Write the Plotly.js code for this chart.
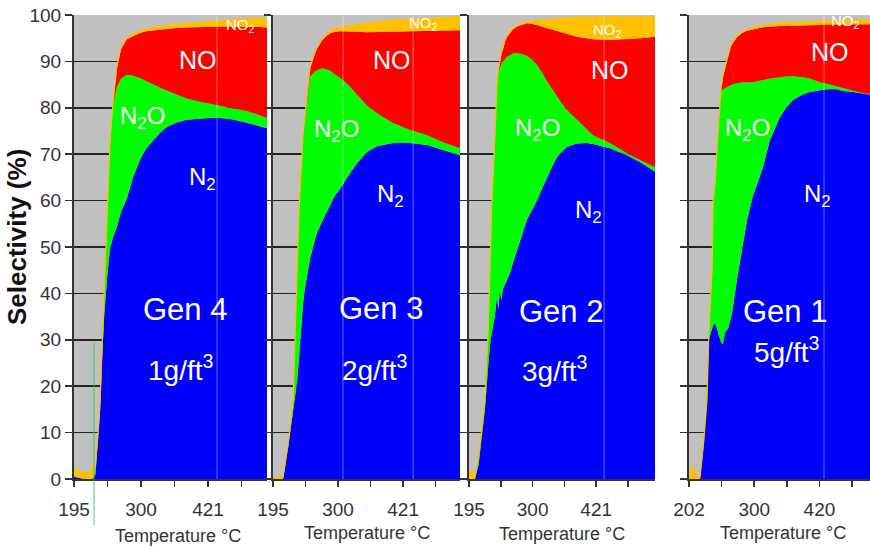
<!DOCTYPE html>
<html>
<head>
<meta charset="utf-8">
<script src="https://cdn.plot.ly/plotly-3.0.1.min.js"></script>
<style>
  html, body { margin: 0; padding: 0; background: #fff; }
  #chart { width: 870px; height: 547px; }
</style>
</head>
<body>
<div id="chart"></div>
<script>
// ---- Selectivity data (%), sampled along each light-off ramp ----
// Positions are in major-tick units along the ramp; every second tick carries a temperature label.

// Gen 4, 1 g/ft3
const gen4Pos = [0, 0.15, 0.3, 0.45, 0.56, 0.64, 0.72, 0.78, 0.84, 0.90, 0.99, 1.07, 1.16, 1.28, 1.40, 1.58, 1.76, 1.97, 2.15, 2.36, 2.57, 2.78, 3.05, 3.37, 3.76, 4.05, 4.36, 4.75, 5.15, 5.55, 5.76];
const gen4N2  = [0.5, 0.3, 0, 0, 0, 1, 8, 15, 26, 35, 43.5, 49.4, 52, 54.3, 57.5, 60.5, 65, 68.8, 71.2, 73, 74.6, 75.9, 76.8, 77.4, 77.7, 77.8, 77.8, 77.5, 76.8, 76, 75.6];
const gen4N2O = [0, 0, 0, 0, 0, 1, 1.5, 1.5, 2.5, 4.5, 16, 22.1, 28.5, 30.2, 28.8, 26.6, 21.9, 17.6, 14.6, 12, 9.7, 7.8, 6.1, 4.6, 3.6, 3.1, 2.7, 2.5, 2.5, 2.4, 2.2];
const gen4NO  = [0, 0, 0, 0, 0, 0, 0, 0, 0, 0, 0, 0, 0, 4.1, 6.3, 7.7, 8.5, 9.7, 10.7, 11.7, 12.6, 13.3, 14.3, 15.3, 16.1, 16.6, 17, 17.5, 18.2, 19, 19.5];
const gen4NO2 = [2, 1, 2, 0.8, 2.5, 1, 0.5, 0.5, 0.5, 0.5, 0.5, 0.5, 0.5, 0.4, 0.4, 0.4, 0.4, 0.5, 0.5, 0.6, 0.6, 0.7, 0.8, 0.9, 1.0, 1.1, 1.3, 1.5, 1.7, 1.9, 2.0];

// Gen 3, 2 g/ft3
const gen3Pos = [0, 0.31, 0.47, 0.62, 0.68, 0.74, 0.80, 0.92, 0.98, 1.05, 1.14, 1.29, 1.35, 1.51, 1.66, 1.75, 1.9, 2.06, 2.28, 2.58, 2.89, 3.2, 3.69, 4.22, 4.74, 5.23, 5.75];
const gen3N2  = [0, 0, 7, 15, 17, 21, 26, 37.5, 41, 44, 47.5, 51.5, 53, 55.5, 57.5, 59, 61, 62.5, 65, 68, 70.5, 71.7, 72.4, 72.4, 72, 70.9, 69.8];
const gen3N2O = [0, 0, 0.7, 1.5, 13.5, 23.5, 31.5, 36, 36.5, 38, 39.2, 36.3, 35.1, 33, 30.8, 29.1, 26.2, 24, 20.2, 14.9, 10, 7.1, 4.3, 2.8, 2.1, 1.7, 1.5];
const gen3NO  = [0, 0, 0, 0.2, 0.2, 0.2, 0.2, 0.2, 0.2, 0.7, 1.8, 3.9, 4.6, 6.0, 7.3, 7.9, 9.2, 10, 11.3, 13.5, 15.8, 17.5, 19.7, 21.3, 22.5, 24.1, 25.4];
const gen3NO2 = [0.3, 0.5, 0.3, 0.3, 0.3, 0.3, 0.3, 0.3, 0.3, 0.3, 0.3, 0.3, 0.3, 0.3, 0.4, 0.5, 0.6, 0.8, 1.1, 1.6, 2.0, 2.2, 2.5, 2.6, 2.7, 2.8, 2.9];

// Gen 2, 3 g/ft3
const gen2Pos = [0, 0.09, 0.19, 0.3, 0.5, 0.6, 0.66, 0.72, 0.82, 0.88, 0.92, 0.97, 1.02, 1.07, 1.13, 1.19, 1.29, 1.38, 1.51, 1.66, 1.82, 1.98, 2.14, 2.3, 2.45, 2.62, 2.77, 2.93, 3.08, 3.4, 3.7, 3.9, 4.43, 4.97, 5.4, 5.85];
const gen2N2  = [0, 0, 0, 3, 15, 24, 29, 31.5, 35.5, 39.5, 36.5, 40.5, 38.5, 41, 42, 43, 44.4, 46.5, 49.4, 52.5, 55.8, 58, 60, 62.6, 65, 67.4, 69.4, 70.6, 71.6, 72.3, 72.4, 72.2, 71.3, 69.8, 68.2, 66.2];
const gen2N2O = [0, 0, 0, 1, 1.7, 7.2, 16.4, 28.2, 38.7, 45.5, 51, 48.3, 51, 49, 48.6, 48, 47, 45.2, 42.4, 39.1, 35.4, 32.4, 29.2, 25, 20.8, 16.6, 12.9, 10.2, 7.9, 5.1, 3, 1.9, 1.1, 0.4, 0.5, 1.0];
const gen2NO  = [0, 0, 0, 0, 0, 0, 0, 0, 0, 0, 0.2, 1.2, 2.2, 2.7, 3.7, 4.2, 4.8, 5.2, 5.7, 6.3, 7.0, 7.7, 8.6, 9.9, 11.4, 12.9, 14.3, 15.5, 16.5, 17.9, 19.6, 20.7, 22.2, 24.6, 26.3, 28.1];
const gen2NO2 = [0.5, 2, 0.5, 1, 0.3, 0.3, 0.3, 0.3, 0.3, 0.3, 0.3, 0.3, 0.3, 0.3, 0.3, 0.3, 0.3, 0.3, 0.3, 0.3, 0.3, 0.6, 1.0, 1.5, 1.9, 2.3, 2.7, 3.0, 3.4, 4.2, 4.6, 4.8, 5.0, 4.8, 4.6, 4.3];

// Gen 1, 5 g/ft3
const gen1Pos = [0, 0.12, 0.22, 0.34, 0.45, 0.55, 0.61, 0.71, 0.74, 0.80, 0.86, 0.89, 0.95, 0.98, 1.04, 1.10, 1.20, 1.26, 1.32, 1.47, 1.56, 1.63, 1.78, 1.96, 2.09, 2.27, 2.48, 2.79, 3.01, 3.19, 3.5, 3.71, 4.02, 4.23, 4.54, 4.72, 5.03, 5.25, 5.55];
const gen1N2  = [0, 0, 0, 0, 7.5, 16.5, 30, 32.8, 33.2, 33.5, 32.5, 31.5, 30, 29.5, 29, 31.5, 32.5, 34, 35.7, 42.9, 46.5, 49.4, 55.8, 61, 63.5, 67.2, 73, 78, 80.3, 81.7, 82.9, 83.4, 83.8, 84, 84, 83.6, 83.4, 83.2, 82.8];
const gen1N2O = [0, 0, 0, 0, 0.2, 0.2, 1.2, 12.6, 26.5, 30.2, 38.2, 43.2, 51.4, 54, 55, 52.7, 52.1, 50.8, 49.3, 42.4, 38.9, 36.1, 29.7, 24.5, 22.2, 18.8, 13.3, 8.6, 6.5, 5.1, 3.7, 2.9, 1.7, 1.2, 0.6, 0.6, 0.2, 0.1, 0.1];
const gen1NO  = [0, 0, 0, 0, 0, 0, 0, 0, 0, 0, 0, 0, 0, 0.2, 2.7, 4.3, 6.6, 7.9, 8.7, 9.9, 10.3, 10.6, 11.1, 11.45, 11.4, 11.35, 11.2, 11.1, 10.95, 10.9, 11.1, 11.5, 12.35, 12.75, 13.4, 13.8, 14.4, 14.7, 15.1];
const gen1NO2 = [0.5, 3, 0.5, 0.5, 0.3, 0.3, 0.3, 0.3, 0.3, 0.3, 0.3, 0.3, 0.3, 0.3, 0.3, 0.3, 0.3, 0.3, 0.3, 0.3, 0.3, 0.3, 0.3, 0.35, 0.4, 0.45, 0.5, 0.6, 0.65, 0.7, 0.8, 0.8, 0.85, 0.85, 0.9, 0.9, 0.9, 0.9, 0.9];

// Temperature labels (°C) on the labelled ticks of each panel
const gen4Ticks = ['195', '300', '421'];
const gen3Ticks = ['195', '300', '421'];
const gen2Ticks = ['195', '300', '421'];
const gen1Ticks = ['202', '300', '420'];

const panelNames = ['Gen 4', 'Gen 3', 'Gen 2', 'Gen 1'];
const loadings = ['1g/ft<sup>3</sup>', '2g/ft<sup>3</sup>', '3g/ft<sup>3</sup>', '5g/ft<sup>3</sup>'];
const speciesNames = ['N<sub>2</sub>', 'N<sub>2</sub>O', 'NO', 'NO<sub>2</sub>'];

// ---- Styling and geometry ----
const W = 870, H = 547;
const px = v => v / W;
const py = v => 1 - v / H;
const FONT = 'Liberation Sans, Arial, sans-serif';
const speciesColors = ['#0000ff', '#00ff00', '#ff0000', '#ffc000'];
const AXIS_DARK = '#333333';

const panels = [
  { pos: gen4Pos, series: [gen4N2, gen4N2O, gen4NO, gen4NO2], ticks: gen4Ticks, dom: [74, 267], span: 5.76,
    spots: { n2: [202, 178], n2o: [142, 117], no: [198, 60], no2: [240, 25], gen: [185, 309], load: [180, 368] },
    title: [178, 536], marks: [4.27] },
  { pos: gen3Pos, series: [gen3N2, gen3N2O, gen3NO, gen3NO2], ticks: gen3Ticks, dom: [273, 460], span: 5.75,
    spots: { n2: [390, 195], n2o: [336, 130], no: [392, 60], no2: [423, 23], gen: [381, 308], load: [374, 368] },
    title: [367, 533], marks: [2.15, 4.31] },
  { pos: gen2Pos, series: [gen2N2, gen2N2O, gen2NO, gen2NO2], ticks: gen2Ticks, dom: [469, 655], span: 5.85,
    spots: { n2: [588, 212], n2o: [537, 129], no: [610, 70], no2: [607, 30], gen: [561, 311], load: [554, 369] },
    title: [562, 534], marks: [4.25] },
  { pos: gen1Pos, series: [gen1N2, gen1N2O, gen1NO, gen1NO2], ticks: gen1Ticks, dom: [689, 870], span: 5.55,
    spots: { n2: [817, 195], n2o: [747, 129], no: [830, 52], no2: [845, 22], gen: [785, 312], load: [786, 350] },
    title: [783, 533], marks: [4.14] }
];

const traces = [];
const layout = {
  width: W, height: H,
  margin: { l: 0, r: 0, t: 0, b: 0 },
  paper_bgcolor: '#ffffff',
  plot_bgcolor: '#c0c0c0',
  showlegend: false,
  hovermode: false,
  font: { family: FONT, color: AXIS_DARK },
  annotations: [],
  shapes: []
};

const yDomain = [py(479), py(15)];

panels.forEach((p, i) => {
  const sfx = i === 0 ? '' : String(i + 1);
  // stacked selectivity areas
  p.series.forEach((vals, s) => {
    traces.push({
      type: 'scatter', x: p.pos, y: vals,
      xaxis: 'x' + sfx, yaxis: 'y' + sfx,
      stackgroup: 'gen' + i, mode: 'lines',
      line: { width: s === 3 ? 1.2 : 0, color: speciesColors[s], shape: 'linear' },
      fillcolor: speciesColors[s],
      hoverinfo: 'skip'
    });
  });

  // ramp axis: a tick every unit, temperature label on every second one
  const tickvals = [0, 1, 2, 3, 4, 5];
  const ticktext = tickvals.map(t => (t % 2 === 0 ? p.ticks[t / 2] : ''));
  layout['xaxis' + sfx] = {
    domain: [px(p.dom[0]), px(p.dom[1])],
    range: [0, p.span],
    anchor: 'y' + sfx,
    showgrid: false, zeroline: false,
    showline: true, linecolor: AXIS_DARK, linewidth: 2,
    ticks: 'outside', ticklen: 6, tickwidth: 1.5, tickcolor: AXIS_DARK,
    tickmode: 'array', tickvals: tickvals, ticktext: ticktext,
    tickfont: { family: FONT, size: 19, color: AXIS_DARK },
    ticklabelstandoff: 6,
    fixedrange: true
  };
  layout['yaxis' + sfx] = {
    domain: yDomain,
    range: [0, 100],
    anchor: 'x' + sfx,
    dtick: 10, tick0: 0,
    showgrid: true, gridcolor: '#222222', gridwidth: 1.6,
    zeroline: false,
    showline: true, linecolor: AXIS_DARK, linewidth: 2,
    ticks: 'outside', ticklen: 7, tickwidth: 1.6, tickcolor: AXIS_DARK,
    showticklabels: i === 0,
    tickfont: { family: FONT, size: 19, color: AXIS_DARK },
    fixedrange: true
  };

  // faint vertical reference lines across the panel
  p.marks.forEach(m => {
    layout.shapes.push({
      type: 'line', xref: 'x' + sfx, yref: 'y' + sfx,
      x0: m, x1: m, y0: 0, y1: 100,
      line: { color: 'rgba(255,255,255,0.28)', width: 1.5 },
      layer: 'above'
    });
  });

  // in-plot labels
  const white = size => ({ family: FONT, size: size, color: '#ffffff' });
  const put = (xy, text, size) => layout.annotations.push({
    xref: 'paper', yref: 'paper', x: px(xy[0]), y: py(xy[1]),
    xanchor: 'center', yanchor: 'middle', showarrow: false,
    text: text, font: white(size)
  });
  put(p.spots.n2, speciesNames[0], 24);
  put(p.spots.n2o, speciesNames[1], 24);
  put(p.spots.no, speciesNames[2], 25);
  put(p.spots.no2, speciesNames[3], 15);
  put(p.spots.gen, panelNames[i], 31);
  put(p.spots.load, loadings[i], 28);

  // axis title under each panel
  layout.annotations.push({
    xref: 'paper', yref: 'paper', x: px(p.title[0]), y: py(p.title[1]),
    xanchor: 'center', yanchor: 'middle', showarrow: false,
    text: 'Temperature °C', font: { family: FONT, size: 18, color: AXIS_DARK }
  });
});

// shared y title
layout.annotations.push({
  xref: 'paper', yref: 'paper', x: px(17), y: py(237),
  xanchor: 'center', yanchor: 'middle', showarrow: false, textangle: -90,
  text: '<b>Selectivity (%)</b>', font: { family: FONT, size: 26, color: '#111111' }
});

// thin trace left by the thermocouple marker in the first panel
layout.shapes.push({
  type: 'line', xref: 'paper', yref: 'paper',
  x0: px(94), x1: px(94), y0: py(343), y1: py(525),
  line: { color: 'rgba(40,200,80,0.85)', width: 1 },
  layer: 'above'
});

Plotly.newPlot('chart', traces, layout, { displayModeBar: false, staticPlot: true });
</script>
</body>
</html>
